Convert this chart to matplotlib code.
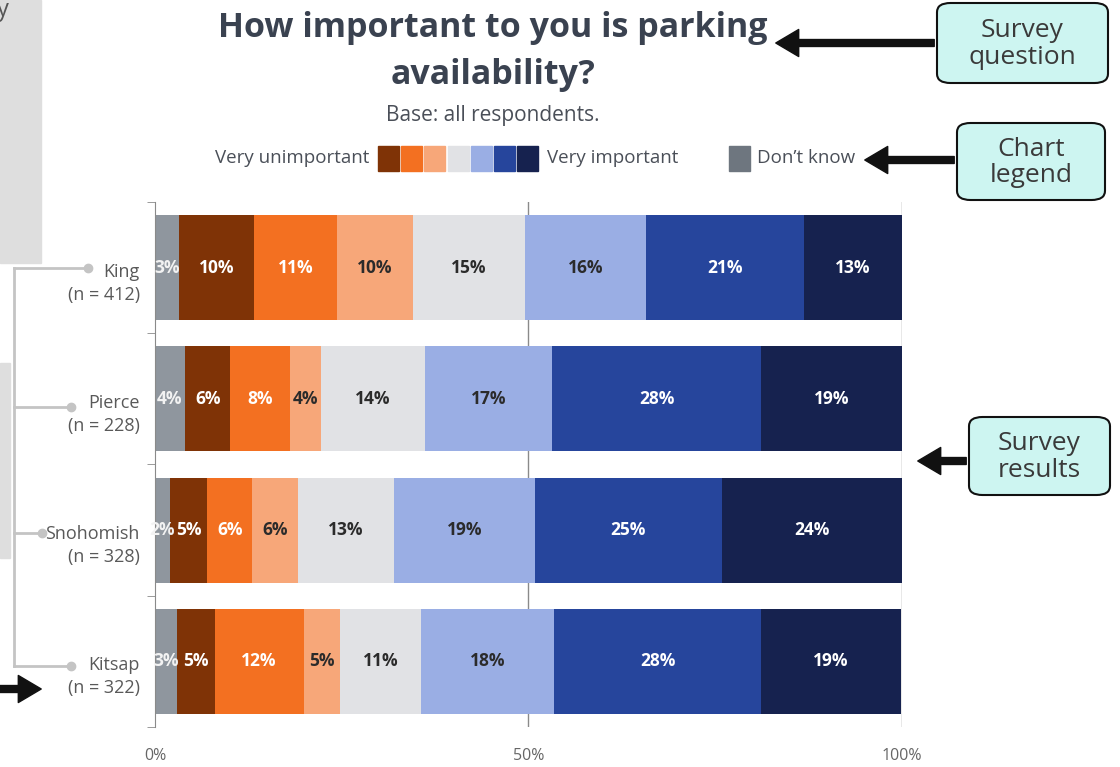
import numpy as np
import matplotlib
matplotlib.use("Agg")
import matplotlib.pyplot as plt
import matplotlib.transforms as mtransforms
from matplotlib.patches import Rectangle, FancyBboxPatch, FancyArrowPatch
from matplotlib.lines import Line2D

plt.rcParams['font.family'] = ['Open Sans', 'DejaVu Sans']

# ---- data (percent of respondents) ----
counties = ['King', 'Pierce', 'Snohomish', 'Kitsap']
n_resp = [412, 228, 328, 322]
levels = ["Don't know", 'Very unimportant', 'Unimportant', 'Somewhat unimportant',
          'Neutral', 'Somewhat important', 'Important', 'Very important']
king = [3.2, 10.1, 11.1, 10.1, 15.1, 16.1, 21.2, 13.1]
pierce = [4.0, 6.1, 8.0, 4.1, 13.9, 17.1, 28.0, 18.8]
snohomish = [2.0, 5.0, 6.0, 6.1, 12.9, 18.9, 25.0, 24.1]
kitsap = [3.0, 5.0, 11.9, 4.9, 10.8, 17.9, 27.6, 18.8]

colors = ['#8f969e', '#7f3306', '#f37021', '#f7a779', '#e1e2e5',
          '#9aaee4', '#26459c', '#16224f']
label_colors = ['#f2f2f2', 'white', 'white', '#2b2b2b', '#2b2b2b',
                '#2b2b2b', 'white', 'white']

W, H = 1120, 767
fig = plt.figure(figsize=(W / 100, H / 100), dpi=100)


def px(x, y):
    # pixel position -> figure fraction
    return x / W, 1 - y / H


ax = fig.add_axes([155 / W, 40 / H, 746.7 / W, 525 / H])

data = np.array([king, pierce, snohomish, kitsap])
ypos = np.arange(len(counties))
left = np.zeros(len(counties))
for j in range(len(levels)):
    vals = data[:, j]
    ax.barh(ypos, vals, left=left, height=0.8, color=colors[j], zorder=2)
    for i, v in enumerate(vals):
        ax.text(left[i] + v / 2, ypos[i], f'{v:.0f}%', ha='center', va='center',
                fontsize=12.5, fontweight='bold', color=label_colors[j], zorder=3)
    left += vals

ax.set_xlim(0, 100)
ax.set_ylim(3.5, -0.5)
for gx in [50, 100]:
    ax.axvline(gx, color='#8a8a8a', lw=1, zorder=1)

for s in ['top', 'right', 'bottom']:
    ax.spines[s].set_visible(False)
ax.spines['left'].set_color('#8a8a8a')

ax.set_xticks([0, 50, 100])
ax.set_xticklabels(['0%', '50%', '100%'])
ax.tick_params(axis='x', length=0, pad=15, labelsize=11.5, labelcolor='#666666')

ax.set_yticks(ypos)
ax.set_yticklabels([f'{c}\n(n = {n})' for c, n in zip(counties, n_resp)],
                   linespacing=1.35)
ax.tick_params(axis='y', which='major', length=0, pad=11, labelsize=13,
               labelcolor='#595959')
# labels sit a little below the bar centre in the original
shift = mtransforms.ScaledTranslation(0, -11 / 100, fig.dpi_scale_trans)
for lab in ax.get_yticklabels():
    lab.set_transform(lab.get_transform() + shift)
ax.set_yticks(np.arange(-0.5, 4, 1), minor=True)
ax.tick_params(axis='y', which='minor', length=6, color='#8a8a8a')

# ---- title ----
fig.text(*px(493, 28), 'How important to you is parking', ha='center', va='center',
         fontsize=24.5, fontweight='bold', color='#3a4250')
fig.text(*px(493, 75), 'availability?', ha='center', va='center',
         fontsize=24.5, fontweight='bold', color='#3a4250')
fig.text(*px(493, 116), 'Base: all respondents.', ha='center', va='center',
         fontsize=15, color='#4a4f58')

# ---- legend row ----
fig.text(*px(369, 158), 'Very unimportant', ha='right', va='center',
         fontsize=13.5, color='#4a4f58')
for k in range(1, 8):
    x0 = 378 + (k - 1) * 23.2
    fig.add_artist(Rectangle(px(x0, 171), 21 / W, 25 / H, color=colors[k],
                             transform=fig.transFigure))
fig.text(*px(547, 158), 'Very important', ha='left', va='center',
         fontsize=13.5, color='#4a4f58')
fig.add_artist(Rectangle(px(729, 171), 21 / W, 25 / H, color='#6e767f',
                         transform=fig.transFigure))
fig.text(*px(757, 158), "Don\u2019t know", ha='left', va='center',
         fontsize=13.5, color='#4a4f58')

# ---- left side decorations ----
fig.add_artist(Rectangle(px(0, 263), 41 / W, 263 / H, color='#dedede',
                         transform=fig.transFigure, zorder=0))
fig.add_artist(Rectangle(px(0, 558), 10 / W, 195 / H, color='#dedede',
                         transform=fig.transFigure, zorder=0))
fig.text(*px(-3, 10), 'y', ha='left', va='center', fontsize=17, color='#555555')

tree_col = '#c4c4c4'
fig.add_artist(Line2D(*zip(px(14, 268), px(14, 666)), color=tree_col, lw=2,
                      transform=fig.transFigure))
for bx, by in [(88, 268), (71, 407), (42, 533), (71, 666)]:
    fig.add_artist(Line2D(*zip(px(14, by), px(bx, by)), color=tree_col, lw=2,
                          transform=fig.transFigure))
    fig.add_artist(Line2D([px(bx, by)[0]], [px(bx, by)[1]], marker='o', ms=6,
                          color=tree_col, transform=fig.transFigure))

# ---- callouts ----
callouts = [('Survey\nquestion', 937, 3, 171, 80, 43, 773),
            ('Chart\nlegend', 957, 123, 148, 77, 160, 862),
            ('Survey\nresults', 969, 417, 141, 78, 461, 915)]
for txt, bx, by, bw, bh, ay, tip in callouts:
    x0, y0 = px(bx, by + bh)
    fig.add_artist(FancyBboxPatch((x0, y0), bw / W, bh / H,
                                  boxstyle='round,pad=0,rounding_size=0.012',
                                  fc='#cdf5f1', ec='#111111', lw=1.5,
                                  transform=fig.transFigure, zorder=5))
    fig.text(*px(bx + bw / 2, by + bh / 2 + 1), txt, ha='center', va='center',
             fontsize=19, color='#3a3a3a', linespacing=1.1, zorder=6)
    fig.add_artist(FancyArrowPatch(px(bx, ay), px(tip, ay),
                                   arrowstyle='simple,head_length=1.65,head_width=1.95,tail_width=0.5',
                                   mutation_scale=10, color='#111111',
                                   transform=fig.transFigure, zorder=4))

fig.add_artist(FancyArrowPatch(px(-5, 689), px(44, 689),
                               arrowstyle='simple,head_length=1.65,head_width=1.95,tail_width=0.5',
                               mutation_scale=10, color='#111111',
                               transform=fig.transFigure, zorder=4))

fig.savefig('out.png', dpi=100)
